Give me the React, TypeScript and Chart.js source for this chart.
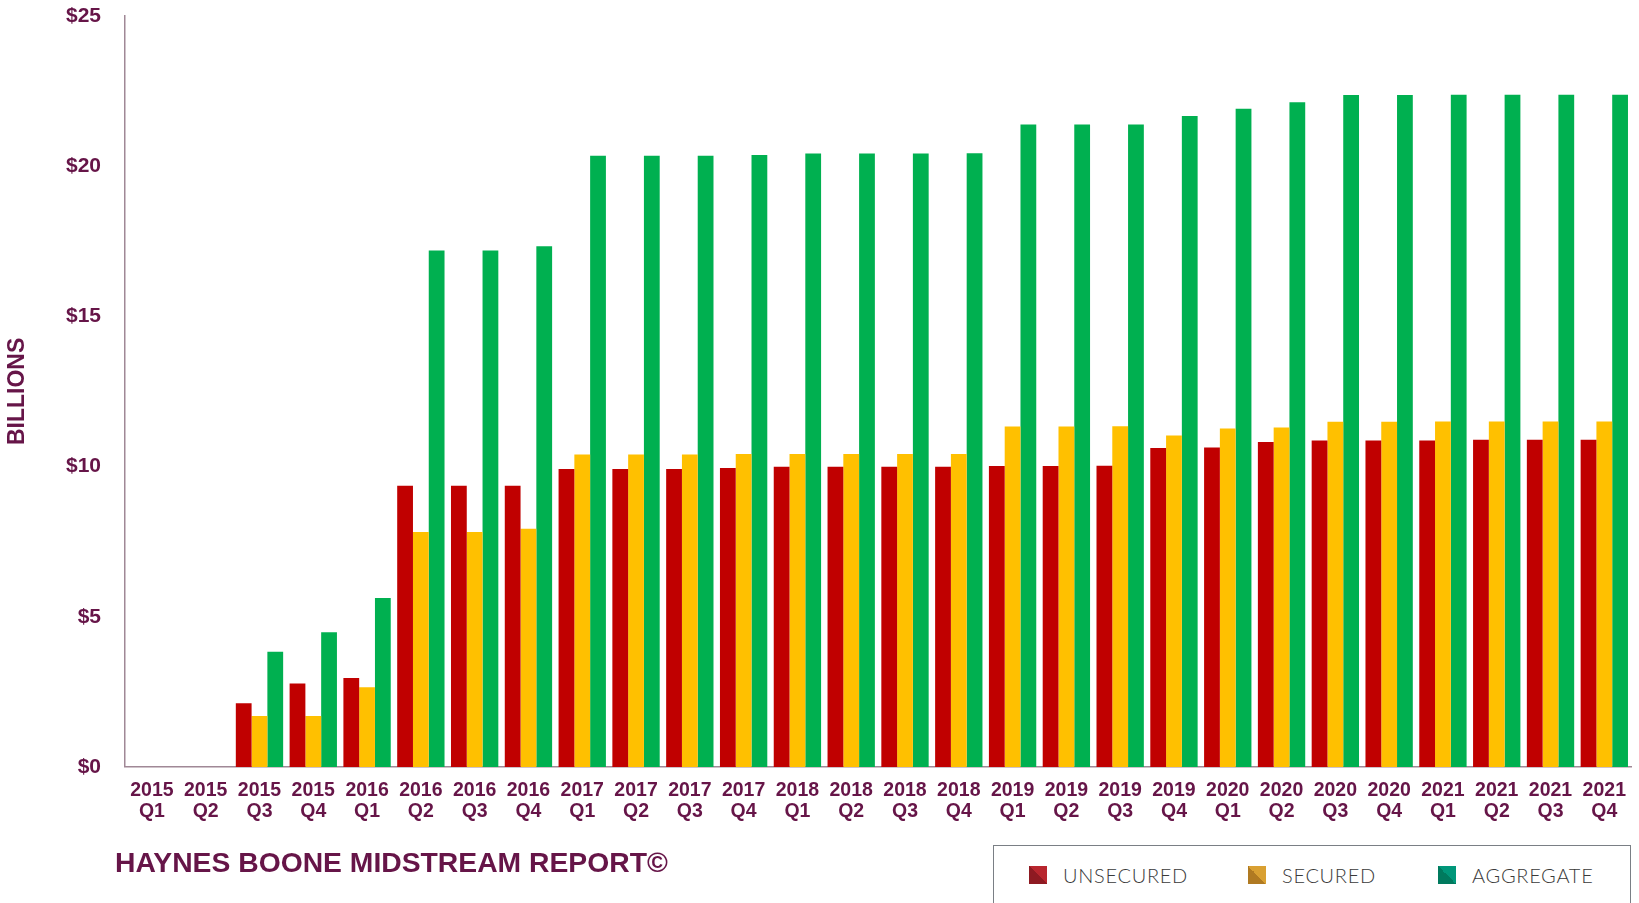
import React, { useEffect, useRef } from "react";
import { Chart, registerables } from "chart.js";

Chart.register(...registerables);

const years = ["2015","2015","2015","2015","2016","2016","2016","2016","2017","2017","2017","2017","2018","2018","2018","2018","2019","2019","2019","2019","2020","2020","2020","2020","2021","2021","2021","2021"];
const quarters = ["Q1","Q2","Q3","Q4","Q1","Q2","Q3","Q4","Q1","Q2","Q3","Q4","Q1","Q2","Q3","Q4","Q1","Q2","Q3","Q4","Q1","Q2","Q3","Q4","Q1","Q2","Q3","Q4"];

const unsecured = [0, 0, 2.12, 2.78, 2.96, 9.36, 9.36, 9.36, 9.92, 9.92, 9.92, 9.95, 9.99, 9.99, 9.99, 9.99, 10.02, 10.02, 10.03, 10.62, 10.63, 10.82, 10.87, 10.87, 10.87, 10.89, 10.89, 10.89];
const secured = [0, 0, 1.69, 1.69, 2.65, 7.82, 7.82, 7.93, 10.4, 10.4, 10.4, 10.42, 10.42, 10.42, 10.42, 10.42, 11.33, 11.33, 11.34, 11.03, 11.27, 11.3, 11.49, 11.49, 11.5, 11.5, 11.5, 11.5];
const aggregate = [0, 0, 3.83, 4.48, 5.62, 17.19, 17.19, 17.33, 20.35, 20.35, 20.35, 20.37, 20.42, 20.42, 20.42, 20.43, 21.39, 21.39, 21.39, 21.67, 21.91, 22.13, 22.37, 22.37, 22.38, 22.38, 22.38, 22.38];

const seriesLabels = ["UNSECURED", "SECURED", "AGGREGATE"];
const barColors = ["#C00000", "#FFC000", "#00B050"];
const legendSwatches = [
  ["#8E1A22", "#B8262E"],
  ["#B07A22", "#D9A032"],
  ["#007A5E", "#00977A"],
];

const yTitle = "BILLIONS";
const reportTitle = "HAYNES BOONE MIDSTREAM REPORT©";

const purple = "#661548";
const axisColor = "#A08896";

export default function App() {
  const canvasRef = useRef<HTMLCanvasElement | null>(null);

  useEffect(() => {
    const canvas = canvasRef.current;
    if (!canvas) return;
    const labels = years.map((y, i) => [y, quarters[i]]);
    const series = [unsecured, secured, aggregate];
    const chart = new Chart(canvas, {
      type: "bar",
      data: {
        labels,
        datasets: series.map((d, i) => ({
          label: seriesLabels[i],
          data: d,
          backgroundColor: barColors[i],
          borderWidth: 0,
          categoryPercentage: 0.88,
          barPercentage: 1.0,
        })),
      },
      options: {
        animation: false,
        responsive: false,
        maintainAspectRatio: false,
        layout: { padding: { top: 16, right: 0, bottom: 68, left: 0 } },
        plugins: {
          legend: { display: false },
          tooltip: { enabled: false },
        },
        scales: {
          x: {
            grid: { display: false, drawTicks: false },
            border: { display: true, color: axisColor, width: 1.5 },
            ticks: {
              color: purple,
              font: { family: "'Liberation Sans', Arial, sans-serif", size: 19.5, weight: "bold", lineHeight: 1.08 },
              padding: 13,
              maxRotation: 0,
              autoSkip: false,
            },
          },
          y: {
            min: 0,
            max: 25,
            afterFit: (scale: any) => {
              scale.width = 125;
              scale.paddingTop = 0;
              scale.paddingBottom = 0;
            },
            grid: { display: false, drawTicks: false },
            border: { display: true, color: axisColor, width: 1.5 },
            ticks: {
              stepSize: 5,
              color: purple,
              padding: 24,
              font: { family: "'Liberation Sans', Arial, sans-serif", size: 21, weight: "bold" },
              callback: (v: any) => "$" + v,
            },
            title: {
              display: true,
              text: yTitle,
              color: purple,
              font: { family: "'Liberation Sans', Arial, sans-serif", size: 23, weight: "bold" },
              padding: { top: 4, bottom: 4 },
            },
          },
        },
      },
    });
    return () => chart.destroy();
  }, []);

  return (
    <div style={{ position: "fixed", left: 0, top: 0, width: 1639, height: 903, background: "#fff", overflow: "hidden" }}>
      <canvas ref={canvasRef} width={1639} height={903} style={{ display: "block", width: 1639, height: 903 }} />
      <div
        style={{
          position: "absolute",
          left: 115,
          top: 845,
          fontFamily: "'Liberation Sans', Arial, sans-serif",
          fontWeight: "bold",
          fontSize: 28.3,
          lineHeight: "34px",
          color: purple,
          whiteSpace: "nowrap",
        }}
      >
        {reportTitle}
      </div>
      <div
        style={{
          position: "absolute",
          left: 993,
          top: 845,
          width: 638,
          height: 80,
          border: "1.5px solid #7A7F85",
          boxSizing: "border-box",
          background: "#fff",
        }}
      >
        {seriesLabels.map((lab, i) => (
          <div
            key={lab}
            style={{
              position: "absolute",
              left: [35, 254, 444][i],
              top: 17,
              display: "flex",
              alignItems: "center",
              whiteSpace: "nowrap",
            }}
          >
            <div
              style={{
                width: 18,
                height: 18,
                background: `linear-gradient(45deg, ${legendSwatches[i][0]} 50%, ${legendSwatches[i][1]} 50%)`,
                marginRight: 16,
              }}
            />
            <span
              style={{
                fontFamily: "Lato, 'Open Sans', sans-serif",
                fontWeight: 300,
                fontSize: 20,
                color: "#3A3A3A",
                letterSpacing: 0.7,
              }}
            >
              {lab}
            </span>
          </div>
        ))}
      </div>
    </div>
  );
}
